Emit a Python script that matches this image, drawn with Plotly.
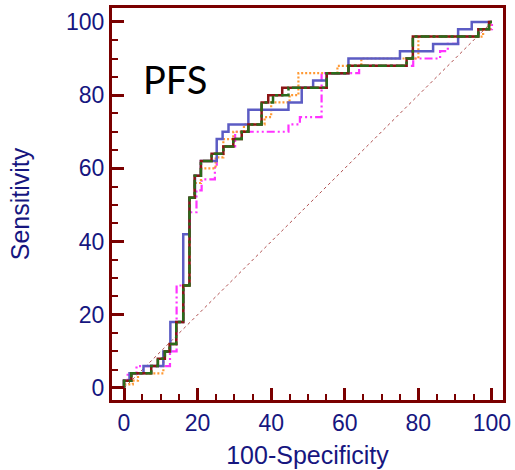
import plotly.graph_objects as go

# ROC step points (100-Specificity, Sensitivity) — top of each vertical rise
blue_x = [0, 0, 1.5, 5.3, 10.7, 12.6, 16.1, 17.8, 19.3, 20.9, 25.2, 26.8, 28.4, 33.8, 44.7, 48.3, 51.4, 55.1, 61, 75, 84, 90.8, 94.5, 100]
blue_y = [0, 2, 4, 6, 10, 18, 42, 52, 58, 62, 68, 70, 72, 76, 78, 82, 84, 86, 90, 92, 94, 98, 100, 100]

brown_x = [0, 0, 2, 7.4, 9.2, 11.1, 12.4, 14.2, 16.1, 17.8, 19.2, 20.9, 23.8, 27, 29.7, 32, 33.8, 37.4, 39.2, 43, 55.1, 61, 76.8, 78.5, 96.3, 99.2, 100]
brown_y = [0, 2, 4, 6, 8, 10, 12, 18, 28, 52, 58, 62, 64, 66, 68, 70, 72, 78, 80, 82, 86, 88, 90, 96, 98, 100, 100]

green_x = [0, 0, 2, 7.4, 9.2, 11.1, 12.4, 14.2, 16.1, 17.8, 19.2, 20.9, 23.8, 27, 29.7, 32, 33.8, 37.4, 40.5, 44.7, 55.1, 61, 76.8, 78.5, 96.3, 99.2, 100]
green_y = [0, 2, 4, 6, 8, 10, 12, 18, 28, 52, 58, 62, 64, 66, 68, 70, 72, 78, 80, 82, 86, 88, 90, 96, 98, 100, 100]

orange_x = [0, 0, 2.4, 3.8, 10.7, 12.4, 14.2, 16.1, 17.8, 19.2, 20.9, 24.9, 27, 29.7, 32.6, 38.2, 40, 45, 47.4, 58, 64.5, 80, 97.6, 99.5, 100]
orange_y = [0, 1, 2, 4, 10, 12, 18, 28, 52, 56, 60, 63, 68, 70, 72, 74, 78, 80, 86, 88, 90, 96, 98, 100, 100]

magenta_x = [0, 0, 1, 3.4, 12.5, 14.3, 17.7, 17.9, 19.7, 21.1, 24.7, 25.2, 27, 30.2, 44.7, 47.8, 53.7, 63.9, 78.6, 85.9, 88, 90.8, 96.5, 100]
magenta_y = [0, 2, 4, 6, 10, 28, 40, 48, 54, 57, 61, 64, 66, 70, 72, 74, 86, 88, 90, 92, 94, 96, 98, 100]

diag = [0, 100]
tick_vals = [0, 20, 40, 60, 80, 100]
title_text = "PFS"

fig = go.Figure()
fig.add_trace(go.Scatter(x=diag, y=diag, mode="lines",
                         line=dict(color="#b05050", width=1, dash="dot")))
series = [
    (magenta_x, magenta_y, "#ff33ff", "8px,3px,2px,3px,2px,3px", 2.2),
    (orange_x, orange_y, "#ff9933", "2px,2px", 2.2),
    (blue_x, blue_y, "#5c5cc4", "solid", 2.5),
    (brown_x, brown_y, "#8b1515", "solid", 2.5),
    (green_x, green_y, "#2b6b1b", "9px,3px,3px,3px", 2.5),
]
for sx, sy, col, dash, w in series:
    fig.add_trace(go.Scatter(x=sx, y=sy, mode="lines", line_shape="hv",
                             line=dict(color=col, width=w, dash=dash)))

fig.add_annotation(x=4.6, y=84.4, xref="x", yref="y", text=title_text,
                   showarrow=False, xanchor="left", yanchor="middle",
                   font=dict(family="Lato", size=38, color="black"))

axis_common = dict(
    showgrid=False, zeroline=False, showline=True, mirror=True, automargin=False,
    linecolor="#7a0000", linewidth=3,
    ticks="inside", ticklen=12, tickwidth=3, tickcolor="#7a0000",
    tickvals=tick_vals,
    tickfont=dict(family="Liberation Sans", size=23, color="#16167f"),
    minor=dict(dtick=5, tick0=0, ticks="inside", ticklen=6, tickwidth=2, tickcolor="#7a0000", showgrid=False),
)

fig.update_xaxes(range=[-3.26, 103.0], title=dict(text="100-Specificity", standoff=12,
                 font=dict(family="Liberation Sans", size=25, color="#16167f")), **axis_common)
fig.update_yaxes(range=[-3.28, 103.8], title=dict(text="Sensitivity", standoff=30,
                 font=dict(family="Liberation Sans", size=25, color="#16167f")), **axis_common)

fig.update_layout(width=515, height=470, showlegend=False,
                  margin=dict(l=112, r=12, t=8, b=70),
                  plot_bgcolor="white", paper_bgcolor="white")

fig.write_html("out.html", config={"displayModeBar": False},
               post_script="document.body.style.margin='0px';")
